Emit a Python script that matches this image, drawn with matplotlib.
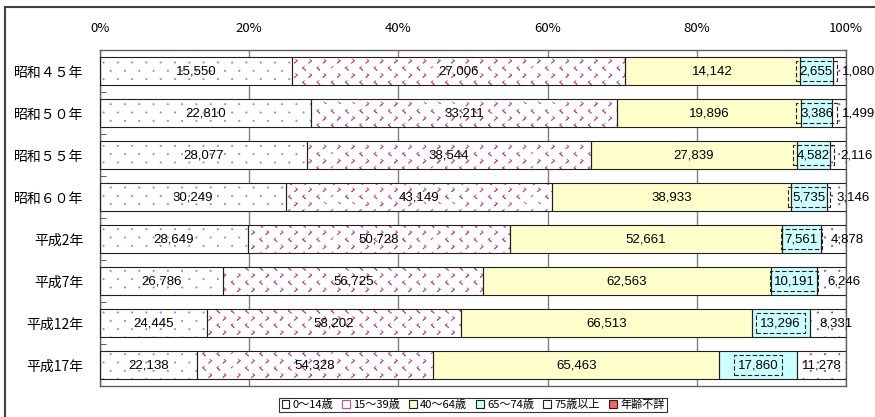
import numpy as np
import matplotlib
matplotlib.use("Agg")
import matplotlib.pyplot as plt
import matplotlib.hatch as mhatch
from matplotlib.path import Path
from matplotlib.patches import Patch
from matplotlib.lines import Line2D

# データ（人数）
years = ["昭和４５年", "昭和５０年", "昭和５５年", "昭和６０年",
         "平成2年", "平成7年", "平成12年", "平成17年"]
age_0_14 = [15550, 22810, 28077, 30249, 28649, 26786, 24445, 22138]
age_15_39 = [27006, 33211, 38544, 43149, 50728, 56725, 58202, 54328]
age_40_64 = [14142, 19896, 27839, 38933, 52661, 62563, 66513, 65463]
age_65_74 = [2655, 3386, 4582, 5735, 7561, 10191, 13296, 17860]
age_75_up = [1080, 1499, 2116, 3146, 4878, 6246, 8331, 11278]
age_unknown = [0, 0, 0, 0, 0, 0, 0, 0]
legend_labels = ["0～14歳", "15～39歳", "40～64歳", "65～74歳", "75歳以上", "年齢不詳"]
pct_ticks = [0, 20, 40, 60, 80, 100]


# 点・山形のハッチ（Excel風のパターン）, タイル = 1インチ
class DotGrid(mhatch.HatchPatternBase):
    filled = True

    def __init__(self, hatch, density):
        self.on = "." in hatch
        self.nx, self.ny = 7, 12
        circ = Path.unit_circle()
        self.sv = circ.vertices * 0.006
        self.sc = circ.codes
        self.num_vertices = self.nx * self.ny * len(self.sv) if self.on else 0

    def set_vertices_and_codes(self, vertices, codes):
        vv, cc = [], []
        for r in range(self.ny):
            for c in range(self.nx):
                x0 = (c + 0.25 + 0.5 * (r % 2)) / self.nx
                y0 = (r + 0.5) / self.ny
                vv.append(self.sv + [x0, y0])
                cc.append(self.sc)
        np.concatenate(vv, out=vertices)
        np.concatenate(cc, out=codes)


class Chevrons(mhatch.HatchPatternBase):
    def __init__(self, hatch, density):
        self.on = "*" in hatch
        self.nx, self.ny = 7, 14
        self.num_vertices = self.nx * self.ny * 4 if self.on else 0

    def set_vertices_and_codes(self, vertices, codes):
        w, h = 0.016, 0.014
        k = 0
        for r in range(self.ny):
            for c in range(self.nx):
                x0 = (c + 0.25 + 0.5 * (r % 2)) / self.nx
                y0 = (r + 0.5) / self.ny
                s = 1 if r % 2 else -1
                p0 = (x0 - s * w / 2, y0 + h)
                p1 = (x0 + s * w / 2, y0)
                p2 = (x0 - s * w / 2, y0 - h)
                # 戻りの線で面積ゼロにして塗りつぶしを避ける
                vertices[k:k + 4] = [p0, p1, p2, p1]
                codes[k:k + 4] = [Path.MOVETO, Path.LINETO, Path.LINETO, Path.LINETO]
                k += 4


mhatch._hatch_types = [DotGrid, Chevrons]

plt.rcParams["hatch.linewidth"] = 0.65
plt.rcParams["font.family"] = ["Liberation Sans", "Noto Sans CJK JP", "DejaVu Sans"]
cjk = ["Noto Sans CJK JP", "DejaVu Sans"]

fig = plt.figure(figsize=(8.75, 4.17), dpi=100)
ax = fig.add_axes([100 / 875, 1 - 386 / 417, 746 / 875, 336 / 417])

series = [age_0_14, age_15_39, age_40_64, age_65_74, age_75_up, age_unknown]
face = ["white", "white", "#FFFFCC", "#CCFFFF", "white", "#FF6060"]
hatch_col = ["#8C8CFF", "#C8508A", "none", "none", "#B040C0", "none"]
hatches = [".", "*", None, None, ".", None]

data = np.array(series, dtype=float)
totals = data.sum(axis=0)
pct = data / totals * 100
y = np.arange(len(years))
bh = 0.667

left = np.zeros(len(years))
for i in range(len(series)):
    ax.barh(y, pct[i], left=left, height=bh, color=face[i],
            edgecolor=hatch_col[i] if hatches[i] else face[i],
            hatch=hatches[i], linewidth=0, zorder=2)
    ax.barh(y, pct[i], left=left, height=bh, fill=False,
            edgecolor="#202020", linewidth=0.8, zorder=3)
    for j in range(len(years)):
        v = series[i][j]
        if v == 0:
            continue
        xc = left[j] + pct[i][j] / 2
        txt = f"{v:,}"
        if i == 3:
            ax.text(xc, y[j], txt, ha="center", va="center", fontsize=9.5, zorder=4,
                    bbox=dict(boxstyle="square,pad=0.3", fc="none", ec="#202020",
                              ls=(0, (4, 2)), lw=0.8))
        elif i == 4 and pct[i][j] < 5.5:
            ax.annotate(txt, (left[j], y[j]), xytext=(7, 0), textcoords="offset points",
                        ha="left", va="center", fontsize=9.5, zorder=4,
                        annotation_clip=False)
        else:
            ax.text(xc, y[j], txt, ha="center", va="center", fontsize=9.5, zorder=4)
    left = left + pct[i]

ax.set_xlim(0, 100)
ax.set_ylim(len(years) - 0.5, -0.5)
ax.xaxis.tick_top()
ax.set_xticks(pct_ticks)
ax.set_xticklabels([f"{t}%" for t in pct_ticks], family=cjk, fontsize=9.5)
ax.tick_params(axis="x", length=0, pad=11)
ax.grid(axis="x", color="#808080", linewidth=1, zorder=0)
ax.set_axisbelow(True)

ax.set_yticks(y)
ax.set_yticklabels(years, family=cjk, fontsize=10)
ax.set_yticks(np.arange(len(years) + 1) - 0.5, minor=True)
ax.tick_params(axis="y", which="major", length=0, pad=12)
ax.tick_params(axis="y", which="minor", direction="in", length=4, color="#404040")
for s in ax.spines.values():
    s.set_color("#606060")
    s.set_linewidth(1)

handles = [Patch(facecolor=f, edgecolor="#202020", linewidth=0.8) for f in face]
handles[1] = Patch(facecolor="white", edgecolor="#C8508A", linewidth=0.8)
leg = fig.legend(handles, legend_labels, loc="center", bbox_to_anchor=(473 / 875, 1 - 405 / 417),
                 ncol=6, frameon=True, fancybox=False, prop={"family": cjk, "size": 8},
                 handlelength=0.7, handleheight=0.7, handletextpad=0.3, columnspacing=0.8,
                 borderpad=0.2, borderaxespad=0)
leg.get_frame().set_edgecolor("black")
leg.get_frame().set_linewidth(0.8)

# 外枠
fig.add_artist(Line2D([5 / 875, 1], [1 - 7 / 417, 1 - 7 / 417], color="#404040", lw=1.5))
fig.add_artist(Line2D([5 / 875, 5 / 875], [0, 1 - 7 / 417], color="#404040", lw=1.5))

fig.savefig("out.png", dpi=100)
